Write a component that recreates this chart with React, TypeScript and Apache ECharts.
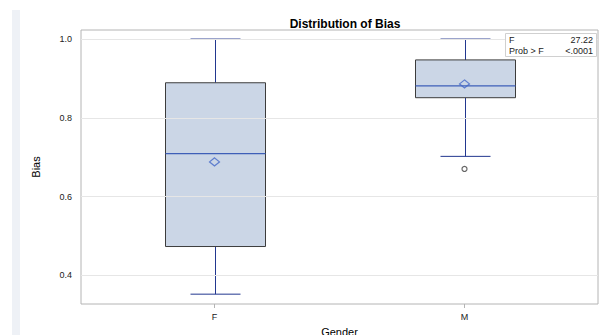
import React, { useEffect, useRef } from "react";
import * as echarts from "echarts";

const categories = ["F", "M"];
// [min, Q1, median, Q3, max]
const boxStats = [
  [0.352, 0.473, 0.709, 0.889, 1.0],
  [0.702, 0.851, 0.881, 0.947, 1.0],
];
const means = [0.688, 0.886];
const outliers = [[1, 0.670]];
const yTicks = [0.4, 0.6, 0.8, 1.0];
const statRows = [
  ["F", "27.22"],
  ["Prob > F", "<.0001"],
];

const FONT = "'Liberation Sans', Arial, sans-serif";

export default function App() {
  const ref = useRef<HTMLDivElement>(null);
  useEffect(() => {
    if (!ref.current) return;
    const chart = echarts.init(ref.current, null, { renderer: "svg" });
    const boxData = boxStats.map((s, i) => [i, ...s]);
    const option: any = {
      animation: false,
      backgroundColor: "#ffffff",
      textStyle: { fontFamily: FONT },
      title: {
        text: "Distribution of Bias",
        left: 340,
        top: 13,
        textAlign: "center",
        textStyle: { fontFamily: FONT, fontSize: 12, fontWeight: "bold", color: "#000" },
      },
      grid: {
        left: 81,
        right: 7,
        top: 30,
        bottom: 31,
        show: true,
        borderColor: "#b4b4b4",
        borderWidth: 1,
        outerBoundsMode: "none",
        containLabel: false,
      },
      xAxis: {
        type: "value",
        min: -0.534,
        max: 1.534,
        name: "Gender",
        nameLocation: "middle",
        nameGap: 22,
        nameTextStyle: { fontFamily: FONT, fontSize: 11, color: "#000" },
        axisLine: { show: false },
        splitLine: { show: false },
        axisTick: { show: true, length: 4, lineStyle: { color: "#b4b4b4" }, customValues: [0, 1] },
        axisLabel: {
          customValues: [0, 1],
          formatter: (v: number) => categories[Math.round(v)] ?? "",
          fontFamily: FONT,
          fontSize: 9,
          color: "#222",
          margin: 8,
        },
      },
      yAxis: {
        type: "value",
        min: 0.327,
        max: 1.023,
        name: "Bias",
        nameLocation: "middle",
        nameGap: 40,
        nameRotate: 90,
        nameTextStyle: { fontFamily: FONT, fontSize: 11, color: "#000" },
        axisLine: { show: false },
        axisTick: { show: true, length: 5, lineStyle: { color: "#b4b4b4" }, customValues: yTicks },
        axisLabel: {
          customValues: yTicks,
          formatter: (v: number) => v.toFixed(1),
          fontFamily: FONT,
          fontSize: 9,
          color: "#222",
          margin: 9,
        },
        splitLine: { show: false },
      },
      series: [
        {
          type: "line",
          data: [],
          markLine: {
            silent: true,
            symbol: "none",
            label: { show: false },
            lineStyle: { color: "#e6e6e6", type: "solid", width: 1 },
            data: yTicks.map((v) => ({ yAxis: v })),
          },
        },
        {
          type: "custom",
          data: boxData,
          z: 3,
          renderItem: (params: any, api: any) => {
            const x = api.value(0);
            const lo = api.coord([x, api.value(1)]);
            const q1 = api.coord([x, api.value(2)]);
            const med = api.coord([x, api.value(3)]);
            const q3 = api.coord([x, api.value(4)]);
            const hi = api.coord([x, api.value(5)]);
            const band = api.size([1, 0])[0];
            const bw = band * 0.4;
            const cw = band * 0.2;
            const cx = Math.round(lo[0]) + 0.5;
            const whisker = { stroke: "#22378f", lineWidth: 1 };
            return {
              type: "group",
              children: [
                { type: "line", shape: { x1: cx, y1: hi[1], x2: cx, y2: q3[1] }, style: whisker },
                { type: "line", shape: { x1: cx, y1: q1[1], x2: cx, y2: lo[1] }, style: whisker },
                { type: "line", shape: { x1: cx - cw / 2, y1: hi[1], x2: cx + cw / 2, y2: hi[1] }, style: whisker },
                { type: "line", shape: { x1: cx - cw / 2, y1: lo[1], x2: cx + cw / 2, y2: lo[1] }, style: whisker },
                {
                  type: "rect",
                  shape: { x: cx - bw / 2, y: q3[1], width: bw, height: q1[1] - q3[1] },
                  style: { fill: "#cbd6e6", stroke: "#3c3c3c", lineWidth: 1 },
                },
                {
                  type: "line",
                  shape: { x1: cx - bw / 2, y1: med[1], x2: cx + bw / 2, y2: med[1] },
                  style: { stroke: "#3e5fb8", lineWidth: 1.2 },
                },
              ],
            };
          },
        },
        {
          type: "scatter",
          z: 4,
          data: means.map((m, i) => [i, m]),
          symbol: "diamond",
          symbolSize: [10, 8],
          itemStyle: { color: "rgba(0,0,0,0)", borderColor: "#4468c8", borderWidth: 1.2 },
        },
        {
          type: "scatter",
          z: 4,
          data: outliers,
          symbol: "circle",
          symbolSize: 5,
          itemStyle: { color: "rgba(0,0,0,0)", borderColor: "#404040", borderWidth: 1.2 },
        },
      ],
      graphic: [
        { type: "rect", shape: { x: 12, y: 10, width: 8, height: 330 }, style: { fill: "#eef1f6" }, silent: true },
        {
          type: "rect",
          shape: { x: 505.5, y: 33.5, width: 91, height: 23 },
          style: { fill: "#ffffff", stroke: "#d0d0d0", lineWidth: 1 },
          z: 10,
        },
        ...statRows.flatMap((r, i) => [
          {
            type: "text",
            x: 509,
            y: 40 + i * 11,
            z: 11,
            style: { text: r[0], fontFamily: FONT, fontSize: 9, fill: "#222", verticalAlign: "middle" },
          },
          {
            type: "text",
            x: 593,
            y: 40 + i * 11,
            z: 11,
            style: { text: r[1], fontFamily: FONT, fontSize: 9, fill: "#222", align: "right", verticalAlign: "middle" },
          },
        ]),
      ],
    };
    chart.setOption(option);
    return () => chart.dispose();
  }, []);
  return <div ref={ref} style={{ width: 605, height: 335, position: "absolute", left: 0, top: 0 }} />;
}
